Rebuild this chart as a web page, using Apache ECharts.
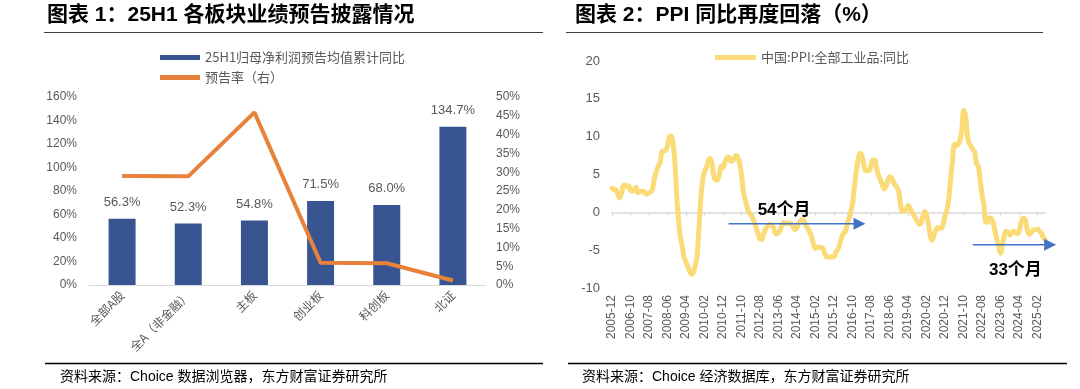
<!DOCTYPE html>
<html><head><meta charset="utf-8">
<script src="https://cdn.jsdelivr.net/npm/echarts@6/dist/echarts.min.js"></script>
<style>html,body{margin:0;padding:0;background:#fff}#c{width:1080px;height:389px}</style>
</head><body><div id="c"></div>
<script>
// ---- Chart 1 data ----
const boardCats = ['全部A股', '全A（非金融）', '主板', '创业板', '科创板', '北证'];
const profitGrowth = [56.3, 52.3, 54.8, 71.5, 68.0, 134.7];
const forecastRate = [29.0, 28.9, 45.9, 5.9, 5.8, 1.2];

// ---- Chart 2 data (China PPI YoY, 2005-12 .. 2025-06) ----
const ppiStart = [2005, 12];
const ppi2005 = [3.2];
const ppi2006 = [3.0, 3.0, 2.5, 1.9, 2.4, 3.5, 3.6, 3.4, 3.5, 2.9, 2.8, 3.1];
const ppi2007 = [3.3, 2.6, 2.7, 2.8, 2.8, 2.5, 2.4, 2.6, 2.7, 3.2, 4.6, 5.4];
const ppi2008 = [6.1, 6.6, 8.0, 8.1, 8.2, 8.8, 10.0, 10.1, 9.1, 6.6, 2.0, -1.1];
const ppi2009 = [-3.3, -4.5, -6.0, -6.6, -7.2, -7.8, -8.2, -7.9, -7.0, -5.8, -2.1, 1.7];
const ppi2010 = [4.3, 5.4, 5.9, 6.8, 7.1, 6.4, 4.8, 4.3, 4.3, 5.0, 6.1, 5.9];
const ppi2011 = [6.6, 7.2, 7.3, 6.8, 6.8, 7.1, 7.5, 7.3, 6.5, 5.0, 2.7, 1.7];
const ppi2012 = [0.7, 0.0, -0.3, -0.7, -1.4, -2.1, -2.9, -3.5, -3.6, -2.8, -2.2, -1.9];
const ppi2013 = [-1.6, -1.6, -1.9, -2.6, -2.9, -2.7, -2.3, -1.6, -1.3, -1.5, -1.4, -1.4];
const ppi2014 = [-1.6, -2.0, -2.3, -2.0, -1.4, -1.1, -0.9, -1.2, -1.8, -2.2, -2.7, -3.3];
const ppi2015 = [-4.3, -4.8, -4.6, -4.6, -4.6, -4.8, -5.4, -5.9, -5.9, -5.9, -5.9, -5.9];
const ppi2016 = [-5.3, -4.9, -4.3, -3.4, -2.8, -2.6, -1.7, -0.8, 0.1, 1.2, 3.3, 5.5];
const ppi2017 = [6.9, 7.8, 7.6, 6.4, 5.5, 5.5, 5.5, 6.3, 6.9, 6.9, 5.8, 4.9];
const ppi2018 = [4.3, 3.7, 3.1, 3.4, 4.1, 4.7, 4.6, 4.1, 3.6, 3.3, 2.7, 0.9];
const ppi2019 = [0.1, 0.1, 0.4, 0.9, 0.6, 0.0, -0.3, -0.8, -1.2, -1.6, -1.4, -0.5];
const ppi2020 = [0.1, -0.4, -1.5, -3.1, -3.7, -3.0, -2.4, -2.0, -2.1, -2.1, -1.5, -0.4];
const ppi2021 = [0.3, 1.7, 4.4, 6.8, 9.0, 8.8, 9.0, 9.5, 10.7, 13.5, 12.9, 10.3];
const ppi2022 = [9.1, 8.8, 8.3, 8.0, 6.4, 6.1, 4.2, 2.3, 0.9, -1.3, -1.3, -0.7];
const ppi2023 = [-0.8, -1.4, -2.5, -3.6, -4.6, -5.4, -4.4, -3.0, -2.5, -2.6, -3.0, -2.7];
const ppi2024 = [-2.5, -2.7, -2.8, -2.5, -1.4, -0.8, -0.8, -1.8, -2.8, -2.9, -2.5, -2.3];
const ppi2025 = [-2.3, -2.2, -2.5, -2.7, -3.3, -3.6];
const ppiValues = [].concat(ppi2005, ppi2006, ppi2007, ppi2008, ppi2009, ppi2010, ppi2011,
  ppi2012, ppi2013, ppi2014, ppi2015, ppi2016, ppi2017, ppi2018, ppi2019, ppi2020,
  ppi2021, ppi2022, ppi2023, ppi2024, ppi2025);
const ppiMonths = ppiValues.map((v, i) => {
  const m0 = ppiStart[1] - 1 + i;
  const y = ppiStart[0] + Math.floor(m0 / 12);
  const m = (m0 % 12) + 1;
  return y + '-' + (m < 10 ? '0' + m : m);
});
// annotations (category, value)
const arrow1 = { from: ['2011-03', -1.5], to: ['2017-05', -1.5], label: '54个月', labelAt: ['2013-09', 0.3] };
const arrow2 = { from: ['2022-03', -4.3], toIndexOffset: 6, y: -4.3, label: '33个月', labelAt: ['2024-02', -7.6] };

const gray = '#595959';
const numFont = 'Liberation Sans, Arial, Noto Sans CJK SC, sans-serif';
const cjkFont = 'Noto Sans CJK SC, Liberation Sans, sans-serif';

const chart = echarts.init(document.getElementById('c'), null, { renderer: 'canvas' });

const option = {
  animation: false,
  backgroundColor: '#fff',
  legend: [
    {
      left: 155, top: 46, orient: 'vertical', itemGap: 7,
      itemWidth: 40, itemHeight: 5,
      textStyle: { color: gray, fontSize: 13, fontFamily: cjkFont },
      data: [
        { name: '25H1归母净利润预告均值累计同比', icon: 'rect' },
        { name: '预告率（右）', icon: 'rect' }
      ]
    },
    {
      left: 710, top: 46, itemWidth: 41, itemHeight: 5,
      textStyle: { color: gray, fontSize: 13, fontFamily: cjkFont },
      data: [{ name: '中国:PPI:全部工业品:同比', icon: 'rect' }]
    }
  ],
  grid: [
    { left: 89, right: 594, top: 97, bottom: 104 },
    { left: 612, right: 35, top: 61, bottom: 101 }
  ],
  xAxis: [
    {
      gridIndex: 0, type: 'category', data: boardCats,
      axisLine: { lineStyle: { color: '#D9D9D9', width: 1 } },
      axisTick: { show: false },
      axisLabel: { interval: 0, rotate: 45, color: gray, fontSize: 12, fontFamily: cjkFont, margin: 8 }
    },
    {
      gridIndex: 1, type: 'category', data: ppiMonths, boundaryGap: false,
      axisLine: { onZero: true, lineStyle: { color: '#D9D9D9', width: 1.5 } },
      axisTick: { show: true, interval: 9, length: 4, lineStyle: { color: '#D9D9D9' } },
      axisLabel: { show: false }
    },
    {
      gridIndex: 1, type: 'category', data: ppiMonths, boundaryGap: false, position: 'bottom',
      axisLine: { show: false, onZero: false },
      axisTick: { show: false },
      axisLabel: { interval: 9, rotate: 90, color: gray, fontSize: 12, fontFamily: numFont, margin: 7 }
    }
  ],
  yAxis: [
    {
      gridIndex: 0, type: 'value', min: 0, max: 160, interval: 20,
      axisLine: { show: false }, axisTick: { show: false }, splitLine: { show: false },
      axisLabel: { formatter: '{value}%', color: gray, fontSize: 12, fontFamily: numFont, margin: 12 }
    },
    {
      gridIndex: 0, type: 'value', min: 0, max: 50, interval: 5, position: 'right',
      axisLine: { show: false }, axisTick: { show: false }, splitLine: { show: false },
      axisLabel: { formatter: '{value}%', color: gray, fontSize: 12, fontFamily: numFont, margin: 10 }
    },
    {
      gridIndex: 1, type: 'value', min: -10, max: 20, interval: 5,
      axisLine: { show: false }, axisTick: { show: false }, splitLine: { show: false },
      axisLabel: { color: gray, fontSize: 13, fontFamily: numFont, margin: 12 }
    }
  ],
  series: [
    {
      name: '25H1归母净利润预告均值累计同比', type: 'bar', xAxisIndex: 0, yAxisIndex: 0,
      data: profitGrowth, barWidth: 27,
      itemStyle: { color: '#385592' },
      label: {
        show: true, position: 'top', distance: 10, color: gray, fontSize: 13, fontFamily: numFont,
        formatter: p => p.value.toFixed(1) + '%'
      },
      z: 2
    },
    {
      name: '预告率（右）', type: 'line', xAxisIndex: 0, yAxisIndex: 1,
      data: forecastRate, symbol: 'none',
      lineStyle: { color: '#E8823A', width: 4 }, itemStyle: { color: '#E8823A' },
      z: 3
    },
    {
      name: '中国:PPI:全部工业品:同比', type: 'line', xAxisIndex: 1, yAxisIndex: 2,
      data: ppiValues, symbol: 'none', smooth: 0.3,
      lineStyle: { color: '#FADB78', width: 5, cap: 'round', join: 'round' },
      itemStyle: { color: '#FADB78' },
      z: 3
    }
  ]
};
chart.setOption(option);

// ---- static decorations + annotations ----
function px(cat, val) { return chart.convertToPixel({ xAxisIndex: 1, yAxisIndex: 2 }, [cat, val]); }
function arrowEls(p0, p1) {
  const col = '#4472C4';
  const head = 12, hh = 6;
  return [
    { type: 'line', shape: { x1: p0[0], y1: p0[1], x2: p1[0] - head + 1, y2: p1[1] }, style: { stroke: col, lineWidth: 1.5 }, z: 10 },
    { type: 'polygon', shape: { points: [[p1[0], p1[1]], [p1[0] - head, p1[1] - hh], [p1[0] - head, p1[1] + hh]] }, style: { fill: col }, z: 10 }
  ];
}
const a1s = px(arrow1.from[0], arrow1.from[1]);
const a1e = px(arrow1.to[0], arrow1.to[1]);
const a2s = px(arrow2.from[0], arrow2.from[1]);
const lastIdx = ppiValues.length - 1;
const pFirst = px(ppiMonths[0], 0), pLast = px(ppiMonths[lastIdx], 0);
const step = (pLast[0] - pFirst[0]) / lastIdx;
const a2e = [pLast[0] + step * arrow2.toIndexOffset, px(ppiMonths[lastIdx], arrow2.y)[1]];
const t1 = px(arrow1.labelAt[0], arrow1.labelAt[1]);
const t2 = px(arrow2.labelAt[0], arrow2.labelAt[1]);

const labelStyle = (t) => ({ text: t, fill: '#000', font: 'bold 17px Liberation Sans, Noto Sans CJK SC, sans-serif', align: 'center', verticalAlign: 'middle' });

chart.setOption({
  graphic: [
    { type: 'text', left: 47, top: 5, style: { text: '图表 1：25H1 各板块业绩预告披露情况', fill: '#000', font: 'bold 21px Liberation Sans, Noto Sans CJK SC, sans-serif' } },
    { type: 'text', left: 575, top: 5, style: { text: '图表 2：PPI 同比再度回落（%）', fill: '#000', font: 'bold 21px Liberation Sans, Noto Sans CJK SC, sans-serif' } },
    { type: 'line', shape: { x1: 44, y1: 32.5, x2: 543, y2: 32.5 }, style: { stroke: '#404040', lineWidth: 1 } },
    { type: 'line', shape: { x1: 566, y1: 32.5, x2: 1043, y2: 32.5 }, style: { stroke: '#404040', lineWidth: 1 } },
    { type: 'line', shape: { x1: 45, y1: 363.5, x2: 543, y2: 363.5 }, style: { stroke: '#000', lineWidth: 1.5 } },
    { type: 'line', shape: { x1: 568, y1: 363.5, x2: 1067, y2: 363.5 }, style: { stroke: '#000', lineWidth: 1.5 } },
    { type: 'text', left: 60, top: 370, style: { text: '资料来源：Choice 数据浏览器，东方财富证券研究所', fill: '#000', font: '14px Liberation Sans, Noto Sans CJK SC, sans-serif' } },
    { type: 'text', left: 582, top: 370, style: { text: '资料来源：Choice 经济数据库，东方财富证券研究所', fill: '#000', font: '14px Liberation Sans, Noto Sans CJK SC, sans-serif' } },
    ...arrowEls(a1s, a1e),
    ...arrowEls(a2s, a2e),
    { type: 'text', x: t1[0], y: t1[1], style: labelStyle(arrow1.label), z: 11 },
    { type: 'text', x: t2[0], y: t2[1], style: labelStyle(arrow2.label), z: 11 }
  ]
});
</script>
</body></html>
